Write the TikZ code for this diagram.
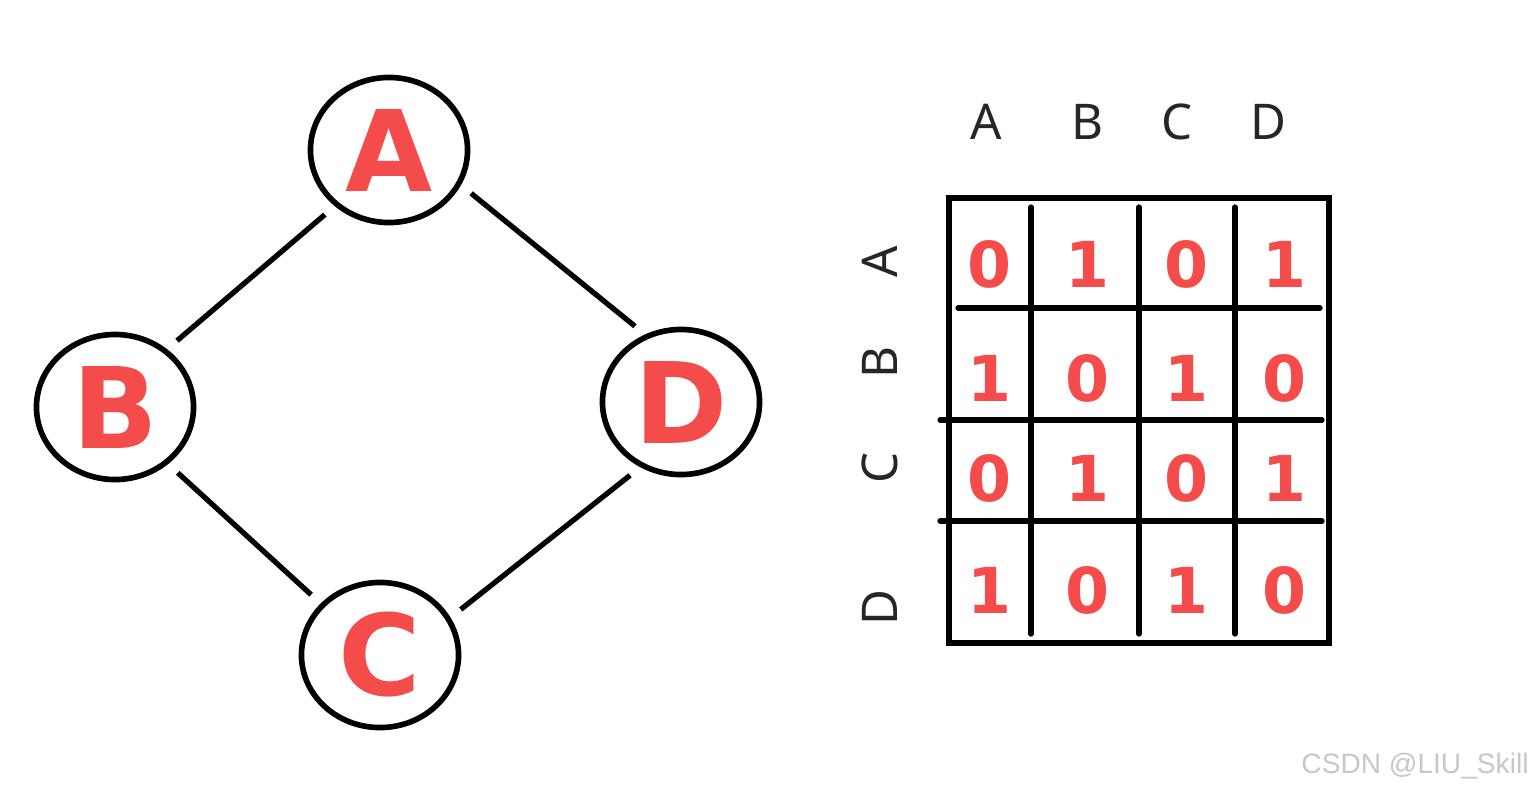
\documentclass[tikz,border=0pt]{standalone}
\usepackage{fontspec}
\setmainfont{Noto Sans}
\newfontfamily\markfont{Liberation Sans}
\newfontfamily\penfont{DejaVu Sans}
\usetikzlibrary{shapes.geometric}
\definecolor{handred}{RGB}{244,76,74}

\begin{document}
\begin{tikzpicture}[
    x=0.01cm, y=-0.01cm,
    vertex/.style={draw, ellipse, line width=1.6pt, minimum width=1.57cm, minimum height=1.45cm, inner sep=0pt, text=handred, font=\penfont\bfseries\fontsize{32}{32}\selectfont},
    edge/.style={line width=1.5pt, shorten >=0.13cm, shorten <=0.13cm},
    grid/.style={line width=1.5pt, line cap=round},
    head/.style={text=black!85, font=\fontsize{14}{14}\selectfont},
    entry/.style={text=handred, font=\penfont\bfseries\fontsize{18}{18}\selectfont}
]
\useasboundingbox (0,0) rectangle (1531,793);

% graph
\node[vertex] (A) at (389,150) {A};
\node[vertex] (B) at (115,407) {B};
\node[vertex] (D) at (681,402) {D};
\node[vertex] (C) at (380,655) {C};

\draw[edge] (A.226) -- (B.48);
\draw[edge] (A.-26) -- (D.118);
\draw[edge] (B.-47) -- (C.139);
\draw[edge] (D.238) -- (C.28);

% adjacency matrix
\draw[grid] (949,198) rectangle (1329,643);
\foreach \x in {1031,1139,1235}
    \draw[grid] (\x,207) -- (\x,634);
\draw[grid] (958,308) -- (1320,308);
\draw[grid] (940,420) -- (1322,420);
\draw[grid] (940,521) -- (1322,521);

\foreach \name/\x in {A/986,B/1087,C/1177,D/1268}
    \node[head] (col\name) at (\x,122) {\name};
\foreach \name/\y in {A/262,B/362,C/468,D/608}
    \node[head, rotate=90] (row\name) at (880,\y) {\name};

\foreach \r/\y/\vals in {A/264/{0,1,0,1}, B/378/{1,0,1,0}, C/478/{0,1,0,1}, D/590/{1,0,1,0}}
    \foreach \v [count=\c] in \vals
        \node[entry] (cell\r\c) at ({990+98*(\c-1)},\y) {\v};

\node[text=black!22, font=\markfont\fontsize{8}{8}\selectfont] (mark) at (1415,766) {CSDN @LIU\_Skill};

\end{tikzpicture}
\end{document}
